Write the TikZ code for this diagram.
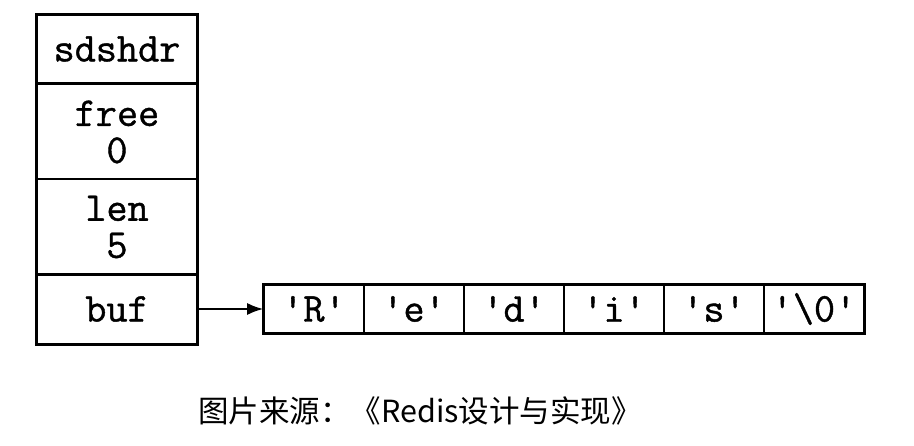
\documentclass[tikz,border=0pt]{standalone}
\usepackage{fontspec}
\newfontfamily\codefont{Latin Modern Mono}[FakeBold=1.0]
\newfontfamily\cjkfont{Noto Sans CJK SC}
\usetikzlibrary{positioning, arrows.meta}

\tikzset{
  field/.style={draw, line width=1.6pt, minimum width=160pt, inner sep=0pt,
    align=center, font=\codefont\fontsize{41}{37}\selectfont},
  cell/.style={draw, line width=1.6pt, minimum width=100pt, minimum height=47pt,
    inner sep=0pt, font=\codefont\fontsize{41}{37}\selectfont}
}

\begin{document}
\begin{tikzpicture}[x=1pt,y=-1pt]
		\useasboundingbox[fill=white] (0,0) rectangle (914,446);
		% sdshdr struct
		\node[field, minimum height=68pt] (hdr) at (117,49) {sdshdr};
		\node[field, minimum height=95pt] (free) at (117,132) {free\\0};
		\node[field, minimum height=96pt] (len) at (117,227) {len\\5};
		\node[field, minimum height=70pt] (buf) at (117,309) {buf};
		\draw [line width=2.8pt] (hdr.north west) rectangle (buf.south east);
		% buf array
		\node[cell] (c0) at (314,309) {\textquotesingle R\textquotesingle};
		\node[cell] (c1) at (414,309) {\textquotesingle e\textquotesingle};
		\node[cell] (c2) at (514,309) {\textquotesingle d\textquotesingle};
		\node[cell] (c3) at (614,309) {\textquotesingle i\textquotesingle};
		\node[cell] (c4) at (714,309) {\textquotesingle s\textquotesingle};
		\node[cell] (c5) at (814,309) {\textquotesingle\textbackslash 0\textquotesingle};
		\draw [line width=2.8pt] (c0.north west) rectangle (c5.south east);
		\draw [line width=1.8pt, -{Latex[length=16pt,width=12pt]}] (buf.east)--(c0.west);
		% caption
		\node[font=\cjkfont\fontsize{30.5}{34}\selectfont] (src) at (420,411) {图片来源：《Redis设计与实现》};
		\end{tikzpicture}
\end{document}
